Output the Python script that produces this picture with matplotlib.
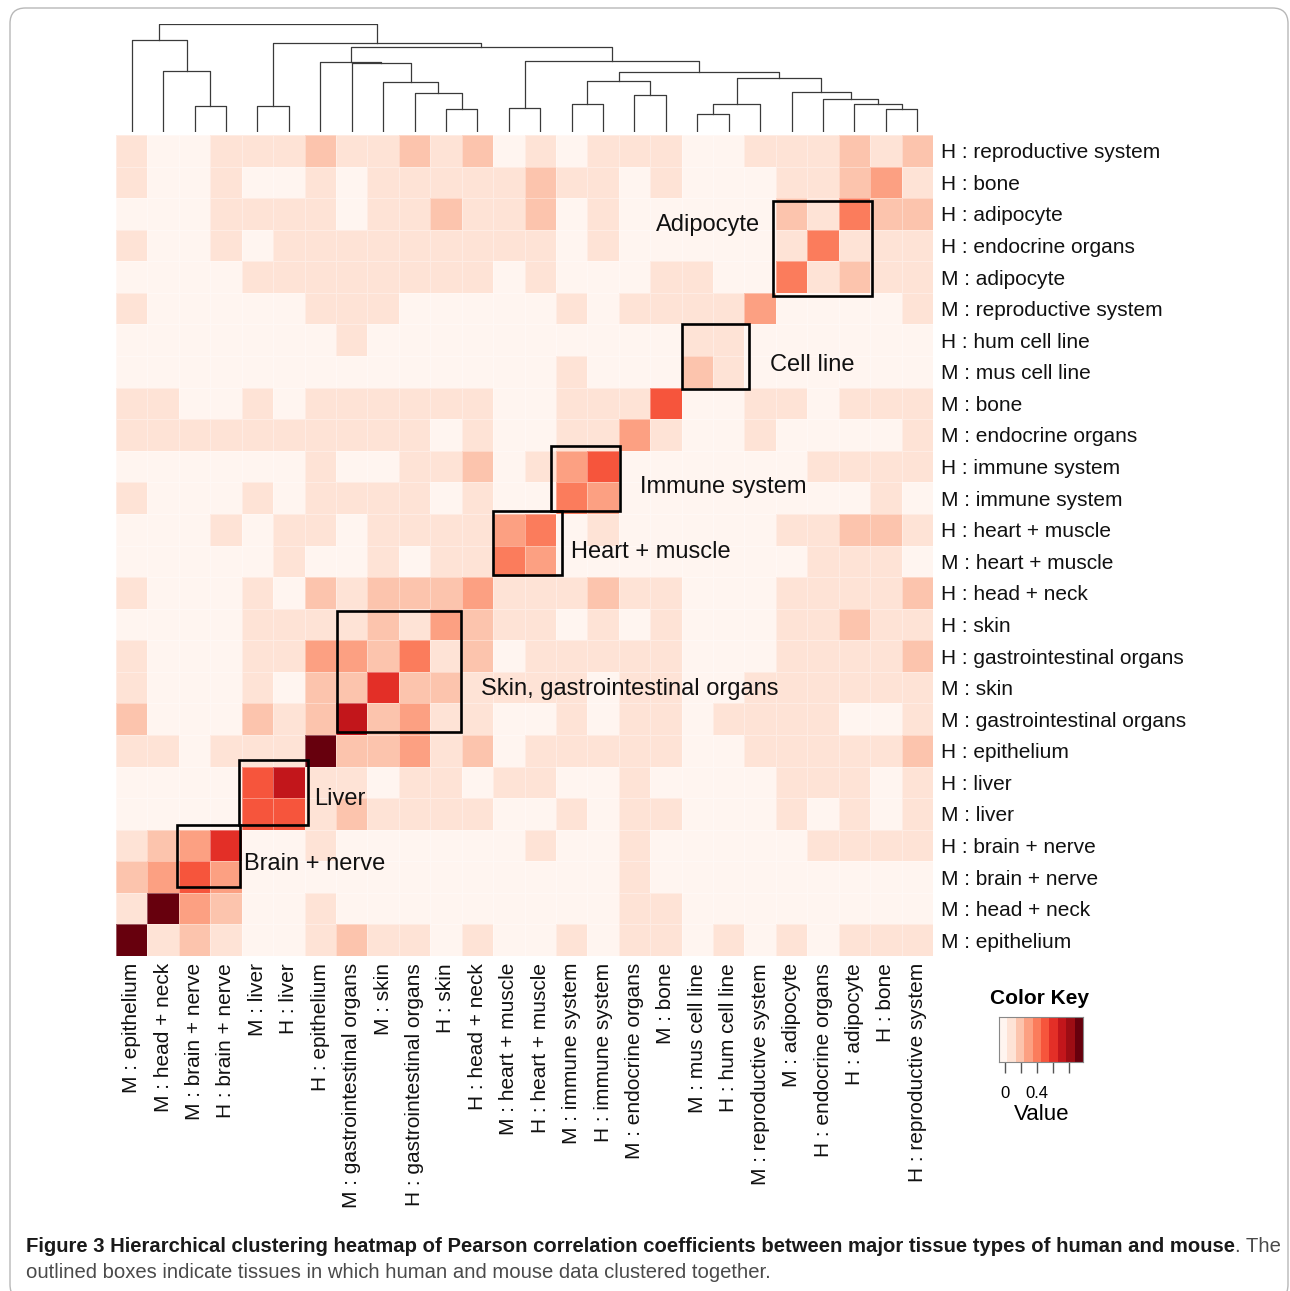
import numpy as np
import matplotlib
matplotlib.use("Agg")
import matplotlib.pyplot as plt
from matplotlib.colors import LinearSegmentedColormap, ListedColormap, BoundaryNorm
from matplotlib.patches import Rectangle, FancyBboxPatch

plt.rcParams['font.family'] = ['Liberation Sans', 'DejaVu Sans']

# column order (left -> right); rows are the same tissues in reverse order
col_labels = ["M : epithelium", "M : head + neck", "M : brain + nerve", "H : brain + nerve",
              "M : liver", "H : liver", "H : epithelium", "M : gastrointestinal organs",
              "M : skin", "H : gastrointestinal organs", "H : skin", "H : head + neck",
              "M : heart + muscle", "H : heart + muscle", "M : immune system",
              "H : immune system", "M : endocrine organs", "M : bone", "M : mus cell line",
              "H : hum cell line", "M : reproductive system", "M : adipocyte",
              "H : endocrine organs", "H : adipocyte", "H : bone", "H : reproductive system"]
row_labels = col_labels[::-1]

# Pearson correlation (row = row_labels, top -> bottom)
corr = [
    [.08,0,0,.08,.08,.08,.19,.08,.08,.19,.08,.19,0,.08,0,.08,.08,.08,0,0,.08,.08,.08,.19,.08,.19],
    [.08,0,0,.08,0,0,.08,0,.08,.08,.08,.08,.08,.19,.08,.08,0,.08,0,0,0,.08,.08,.19,.29,.08],
    [0,0,0,.08,.08,.08,.08,0,.08,.08,.19,.08,.08,.19,0,.08,0,0,0,0,0,.19,.08,.40,.19,.19],
    [.08,0,0,.08,0,.08,.08,.08,.08,.08,.08,.08,.08,.08,0,.08,0,0,0,0,0,.08,.40,.08,.08,.08],
    [0,0,0,0,.08,.08,.08,.08,.08,.08,.08,.08,0,.08,0,0,0,.08,.08,0,0,.40,.08,.19,.08,.08],
    [.08,0,0,0,0,0,.08,.08,.08,0,0,0,0,0,.08,0,.08,.08,.08,.08,.29,0,0,0,0,.08],
    [0,0,0,0,0,0,0,.08,0,0,0,0,0,0,0,0,0,0,.08,.08,0,0,0,0,0,0],
    [0,0,0,0,0,0,0,0,0,0,0,0,0,0,.08,0,0,0,.19,.08,0,0,0,0,0,0],
    [.08,.08,0,0,.08,0,.08,.08,.08,.08,.08,.08,0,0,.08,.08,.08,.50,0,0,.08,.08,0,.08,.08,.08],
    [.08,.08,.08,.08,.08,.08,.08,.08,.08,.08,0,.08,0,0,.08,.08,.29,.08,0,0,.08,0,0,0,0,.08],
    [0,0,0,0,0,0,.08,0,0,.08,.08,.19,0,.08,.29,.50,0,0,0,0,0,0,.08,.08,.08,.08],
    [.08,0,0,0,.08,0,.08,.08,.08,.08,0,.08,0,0,.40,.29,0,0,0,0,0,0,0,0,.08,0],
    [0,0,0,.08,0,.08,.08,0,.08,.08,.08,.08,.29,.40,0,.08,0,0,0,0,0,.08,.08,.19,.19,.08],
    [0,0,0,0,0,.08,0,0,.08,0,.08,.08,.40,.29,0,0,0,0,0,0,0,0,.08,.08,.08,0],
    [.08,0,0,0,.08,0,.19,.08,.19,.19,.19,.29,.08,.08,.08,.19,.08,.08,0,0,0,.08,.08,.08,.08,.19],
    [0,0,0,0,.08,.08,.08,.08,.19,.08,.29,.19,.08,.08,0,.08,0,.08,0,0,0,.08,.08,.19,.08,.08],
    [.08,0,0,0,.08,.08,.29,.29,.19,.40,.08,.19,0,.08,.08,.08,.08,.08,0,0,0,.08,.08,.08,.08,.19],
    [.08,0,0,0,.08,0,.19,.19,.61,.19,.19,.08,.08,.08,.08,0,.08,.08,0,0,.08,.08,.08,.08,.08,.08],
    [.19,0,0,0,.19,.08,.19,.71,.19,.29,.08,.08,0,0,.08,0,.08,.08,0,.08,.08,.08,.08,0,0,.08],
    [.08,.08,0,.08,.08,.08,.92,.19,.19,.29,.08,.19,0,.08,.08,.08,.08,.08,0,0,.08,.08,.08,.08,.08,.19],
    [0,0,0,0,.50,.71,.08,.08,0,.08,.08,0,.08,.08,0,0,.08,0,0,0,0,.08,.08,.08,0,.08],
    [0,0,0,0,.50,.50,.08,.19,.08,.08,.08,.08,0,0,.08,0,.08,.08,0,0,0,.08,0,.08,0,.08],
    [.08,.19,.29,.61,0,0,.08,0,0,0,0,0,0,.08,0,0,.08,0,0,0,0,0,.08,.08,.08,.08],
    [.19,.29,.50,.29,0,0,0,0,0,0,0,0,0,0,0,0,.08,0,0,0,0,0,0,0,0,0],
    [.08,.92,.29,.19,0,0,.08,0,0,0,0,0,0,0,0,0,.08,.08,0,0,0,0,0,0,0,0],
    [.92,.08,.19,.08,0,0,.08,.19,.08,.08,0,.08,0,0,.08,0,.08,.08,0,.08,0,.08,0,.08,.08,.08],
]

# column dendrogram: (node, left, right, height); ints are column indices
merges = [
    ("n23", 2, 3, 26.0), ("n123", 1, "n23", 60.7), ("nL", 0, "n123", 91.7),
    ("n45", 4, 5, 25.7),
    ("nE", 10, 11, 22.7), ("nD", 9, "nE", 39.0), ("nC", 8, "nD", 49.7),
    ("nB", 7, "nC", 68.4), ("nA", 6, "nB", 70.0),
    ("nF", 12, 13, 24.4),
    ("nJ", 14, 15, 28.4), ("nK", 16, 17, 36.4), ("nH", "nJ", "nK", 50.7),
    ("nN", 18, 19, 18.4), ("nLL", "nN", 20, 28.4),
    ("nQ", 24, 25, 23.0), ("nP", 23, "nQ", 28.4), ("nO", 22, "nP", 33.0), ("nM", 21, "nO", 39.7),
    ("nI", "nLL", "nM", 54.0), ("nG", "nH", "nI", 60.0), ("nFG", "nF", "nG", 70.7),
    ("nAFG", "nA", "nFG", 85.0), ("nR", "n45", "nAFG", 88.4), ("root", "nL", "nR", 107.4),
]

# outlined clusters: label, box (x, y, w, h in cell units), label position, alignment
clusters = [
    ("Adipocyte", (20.92, 2.09, 3.15, 3.0), (20.5, 2.85), "right"),
    ("Cell line", (18.0, 5.98, 2.16, 2.06), (20.8, 7.28), "left"),
    ("Immune system", (13.85, 9.84, 2.18, 2.06), (16.66, 11.14), "left"),
    ("Heart + muscle", (12.0, 11.9, 2.18, 2.02), (14.47, 13.2), "left"),
    ("Skin, gastrointestinal organs", (7.03, 15.06, 3.96, 3.85), (11.6, 17.53), "left"),
    ("Liver", (3.9, 19.8, 2.2, 2.05), (6.3, 21.04), "left"),
    ("Brain + nerve", (1.93, 21.84, 2.02, 1.98), (4.07, 23.1), "left"),
]

W, H = 1290, 1291
fig = plt.figure(figsize=(W / 100, H / 100), dpi=100)

def fx(px):
    return px / W

def fy(py):
    return 1 - py / H

# outer frame
fig.patches.append(FancyBboxPatch((fx(10), fy(1300)), fx(1278), (1300 - 8) / H,
                                  boxstyle="round,pad=0,rounding_size=0.012",
                                  transform=fig.transFigure, fc="none", ec="#b8b8b8", lw=1))

reds9 = ["#FFF5F0", "#FEE0D2", "#FCBBA1", "#FC9272", "#FB6A4A", "#EF3B2C", "#CB181D", "#A50F15", "#67000D"]
ramp = LinearSegmentedColormap.from_list("reds", reds9)
cmap = ListedColormap([ramp(i / 9) for i in range(10)])
vmin, vmax = -0.075, 0.975
bounds = np.linspace(vmin, vmax, 11)
norm = BoundaryNorm(bounds, 10)

# heatmap
ax = fig.add_axes([fx(116), fy(956), fx(817), (956 - 135) / H])
data = np.array(corr)
n = len(col_labels)
ax.pcolormesh(np.arange(n + 1), np.arange(n + 1), data, cmap=cmap, norm=norm,
              edgecolors=(1, 1, 1, 0.35), linewidth=0.5)
ax.set_xlim(0, n)
ax.set_ylim(n, 0)
for s in ax.spines.values():
    s.set_visible(False)
ax.set_xticks(np.arange(n) + 0.5)
ax.set_xticklabels(col_labels, rotation=90, fontsize=15, color="#111111")
ax.set_yticks(np.arange(n) + 0.5)
ax.set_yticklabels(row_labels, fontsize=15, color="#111111")
ax.yaxis.tick_right()
ax.tick_params(axis="x", length=0, pad=5)
ax.tick_params(axis="y", length=0, pad=6)

for name, (bx, by, bw, bh), (tx, ty), ha in clusters:
    ax.add_patch(Rectangle((bx, by), bw, bh, fill=False, ec="black", lw=1.9, zorder=3))
    ax.text(tx, ty, name, ha=ha, va="center", fontsize=17, color="#111111", zorder=4)

# dendrogram
axd = fig.add_axes([fx(116), fy(132), fx(817), (132 - 24.3) / H])
pos = {i: i + 0.5 for i in range(n)}
hgt = {i: 0.0 for i in range(n)}
for name, a, b, h in merges:
    xa, xb = pos[a], pos[b]
    axd.plot([xa, xa, xb, xb], [hgt[a], h, h, hgt[b]], color="#3a3a3a", lw=0.9)
    pos[name] = (xa + xb) / 2
    hgt[name] = h
axd.set_xlim(0, n)
axd.set_ylim(0, 107.4)
axd.axis("off")

# color key
axk = fig.add_axes([fx(999), fy(1062), fx(84), 45 / H])
centers = (bounds[:-1] + bounds[1:]) / 2
axk.pcolormesh(bounds, [0, 1], centers[None, :], cmap=cmap, norm=norm)
axk.set_xlim(vmin, vmax)
axk.set_ylim(0, 1)
axk.set_yticks([])
axk.set_xticks([0, 0.2, 0.4, 0.6, 0.8])
axk.set_xticklabels(["0", "", "0.4", "", ""], fontsize=12)
axk.tick_params(axis="x", length=8, width=1, color="#555555", pad=9)
for s in axk.spines.values():
    s.set_color("#888888")
fig.text(fx(1040), fy(999), "Color Key", ha="center", va="center", fontsize=15, fontweight="bold")
fig.text(fx(1042), fy(1114), "Value", ha="center", va="center", fontsize=16)

# caption
bold_part = ("Figure 3 Hierarchical clustering heatmap of Pearson correlation coefficients "
             "between major tissue types of human and mouse")
t1 = fig.text(fx(26), fy(1246), bold_part, ha="left", va="center", fontsize=13,
              fontweight="bold", color="#1a1a1a")
fig.canvas.draw()
r = fig.canvas.get_renderer()
bb = t1.get_window_extent(r)
cap_size = 13 * (1233 - 26) / bb.width
t1.set_fontsize(cap_size)
bb = t1.get_window_extent(r)
fig.text(bb.x1 / W, fy(1246), ". The", ha="left", va="center", fontsize=cap_size, color="#4a4a4a")
fig.text(fx(26), fy(1272), "outlined boxes indicate tissues in which human and mouse data clustered together.",
         ha="left", va="center", fontsize=cap_size, color="#4a4a4a")

fig.savefig("out.png", dpi=100)
